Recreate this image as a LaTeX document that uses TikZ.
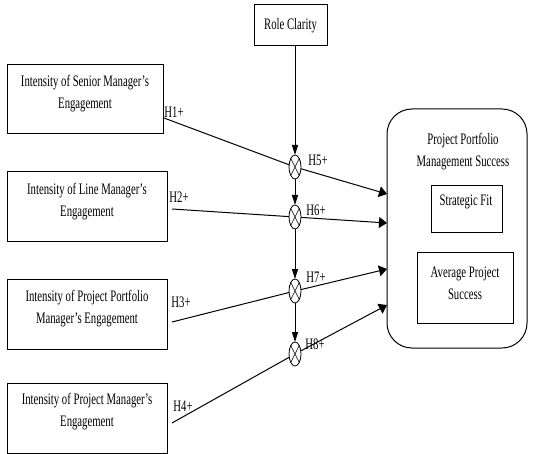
\documentclass[tikz,border=0pt]{standalone}
\usepackage{fontspec}
\setmainfont{Liberation Serif}[FakeStretch=0.67]
\usetikzlibrary{arrows.meta,shapes.geometric}

\tikzset{
  box/.style={draw, line width=1pt, inner sep=0pt},
  txt/.style={align=center, inner sep=0pt, font=\fontsize{16}{22}\selectfont},
  hyp/.style={inner sep=0pt, font=\fontsize{16}{22}\selectfont},
  mult/.style={draw, ellipse, fill=white, line width=0.8pt, minimum width=12pt, minimum height=24pt, inner sep=0pt, outer sep=0pt},
  link/.style={line width=1pt, -{Triangle[length=8pt,width=11pt]}},
  down/.style={line width=1pt, -{Triangle[length=10pt,width=6pt]}},
}

\begin{document}
\begin{tikzpicture}[x=1pt,y=-1pt]
	\useasboundingbox (0,0) rectangle (535,454);
	% moderator
	\node[box, minimum width=73pt, minimum height=41pt] (rc) at (290.5,25.5) {};
	\node[txt] (rctxt) at (rc.center) {Role Clarity};
	% independent variables
	\node[box, minimum width=156pt, minimum height=69pt] (senior) at (85,99.5) {};
	\node[box, minimum width=160pt, minimum height=70pt] (line) at (87,207) {};
	\node[box, minimum width=160pt, minimum height=70pt] (portfolio) at (87,314) {};
	\node[box, minimum width=160pt, minimum height=70pt] (project) at (87,418) {};
	\node[txt] (seniortxt) at (85,94) {Intensity of Senior Manager's\\Engagement};
	\node[txt] (linetxt) at (87,202) {Intensity of Line Manager's\\Engagement};
	\node[txt] (portfoliotxt) at (87,309) {Intensity of Project Portfolio\\Manager's Engagement};
	\node[txt] (projecttxt) at (87,412) {Intensity of Project Manager's\\Engagement};
	% dependent variable
	\node[box, rounded corners=25pt, minimum width=140pt, minimum height=239pt] (ppms) at (457,228.5) {};
	\node[txt] (ppmstxt) at (463,152) {Project Portfolio\\Management Success};
	\node[box, minimum width=71pt, minimum height=47pt] (fit) at (466.5,209.5) {};
	\node[txt] (fittxt) at (466,202) {Strategic Fit};
	\node[box, minimum width=96pt, minimum height=70pt] (avg) at (465,288) {};
	\node[txt] (avgtxt) at (465,283) {Average Project\\Success};
	% start and end points
	\coordinate (s1) at (164,118);
	\coordinate (s2) at (172,209);
	\coordinate (s3) at (172,322);
	\coordinate (s4) at (172,423);
	\coordinate (e1) at (387,194);
	\coordinate (e2) at (387,223);
	\coordinate (e3) at (387,269);
	\coordinate (e4) at (387,305);
	% multipliers
	\node[mult] (m1) at (295,167) {};
	\node[mult] (m2) at (295,217) {};
	\node[mult] (m3) at (295,291) {};
	\node[mult] (m4) at (295,354) {};
	\foreach \m in {m1,m2,m3,m4}{
		\draw[line width=0.6pt] (\m.north west) -- (\m.south east) (\m.north east) -- (\m.south west);
	}
	% arrows
	\draw[down] (rc.south -| m1) -- (m1);
	\draw[down] (m1) -- (m2);
	\draw[down] (m2) -- (m3);
	\draw[down] (m3) -- (m4);
	\foreach \i in {1,2,3,4}{
		\draw[line width=1pt] (s\i) -- (m\i);
		\draw[link] (m\i) -- (e\i);
	}
	% hypotheses
	\node[hyp] (h1) at (174,112) {H1+};
	\node[hyp] (h2) at (179,197) {H2+};
	\node[hyp] (h3) at (181,302) {H3+};
	\node[hyp] (h4) at (183,406) {H4+};
	\node[hyp] (h5) at (318,160) {H5+};
	\node[hyp] (h6) at (316,210) {H6+};
	\node[hyp] (h7) at (316,277) {H7+};
	\node[hyp] (h8) at (315,344) {H8+};
\end{tikzpicture}
\end{document}
